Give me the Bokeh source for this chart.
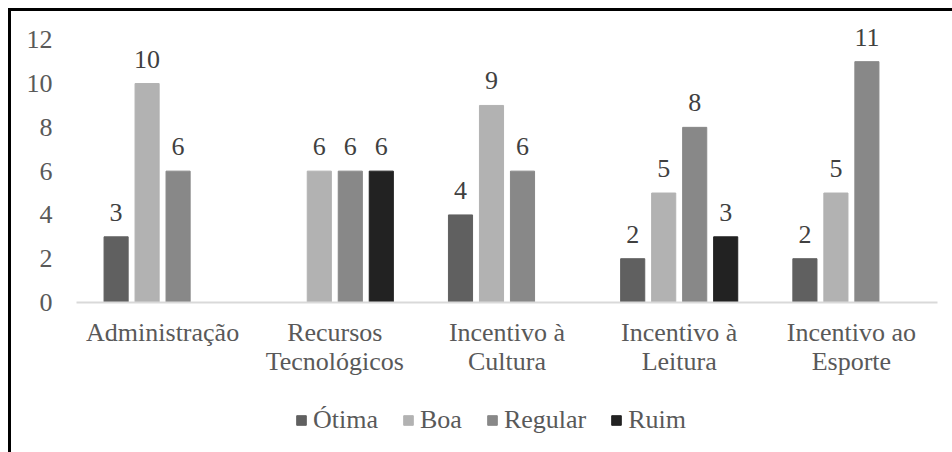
from bokeh.plotting import figure
from bokeh.layouts import column
from bokeh.models import ColumnDataSource, Range1d, Legend, LegendItem, FixedTicker, LabelSet
from bokeh.transform import dodge
from bokeh.embed import file_html
from bokeh.resources import INLINE

categories = ["Administração", "Recursos\nTecnológicos", "Incentivo à\nCultura", "Incentivo à\nLeitura", "Incentivo ao\nEsporte"]
series = ["Ótima", "Boa", "Regular", "Ruim"]
otima = [3, None, 4, 2, 2]
boa = [10, 6, 9, 5, 5]
regular = [6, 6, 6, 8, 11]
ruim = [None, 6, None, 3, None]
colors = ["#606060", "#b2b2b2", "#888888", "#222222"]
yticks = [0, 2, 4, 6, 8, 10, 12]

FONT = "Liberation Serif"
FS = "26px"

# y range end leaves headroom above the "12" tick so the value labels are not clipped
p = figure(x_range=categories, y_range=Range1d(0, 12.88), width=941, height=367,
           output_backend="svg", toolbar_location=None,
           min_border_left=65, min_border_top=9, min_border_right=15, min_border_bottom=0)
p.outline_line_color = None
p.grid.visible = False

q = figure(width=941, height=74, x_range=p.x_range, y_range=Range1d(100, 101),
           output_backend="svg", toolbar_location=None,
           x_axis_location=None, y_axis_location=None,
           min_border_left=0, min_border_right=0, min_border_top=0, min_border_bottom=0)
q.outline_line_color = None
q.grid.visible = False

offsets = [-0.27, -0.09, 0.09, 0.27]
items = []
for name, vals, col, off in zip(series, [otima, boa, regular, ruim], colors, offsets):
    xs = [c for c, v in zip(categories, vals) if v is not None]
    ys = [v for v in vals if v is not None]
    src = ColumnDataSource(dict(x=xs, y=ys, lbl=[str(v) for v in ys]))
    p.vbar(x=dodge("x", off, range=p.x_range), top="y", width=0.14, source=src,
           fill_color=col, line_color=col)
    labels = LabelSet(x=dodge("x", off, range=p.x_range), y="y", text="lbl", source=src,
                      text_align="center", text_baseline="alphabetic", y_offset=16,
                      text_font=FONT, text_font_size=FS, text_color="#404040")
    p.add_layout(labels)
    # same series in the legend strip (out of its visible y range), used only for the legend
    r = q.vbar(x=dodge("x", off, range=q.x_range), top="y", width=0.14, source=src,
               fill_color=col, line_color=col)
    items.append(LegendItem(label=name, renderers=[r]))

p.yaxis.ticker = FixedTicker(ticks=yticks)
p.yaxis.axis_line_color = None
p.yaxis.major_tick_line_color = None
p.yaxis.minor_tick_line_color = None
p.yaxis.major_label_standoff = 18
p.yaxis.major_label_text_font = FONT
p.yaxis.major_label_text_font_size = FS
p.yaxis.major_label_text_color = "#595959"

p.xaxis.axis_line_color = "#d9d9d9"
p.xaxis.axis_line_width = 2
p.xaxis.major_tick_line_color = None
p.xaxis.major_label_standoff = 9
p.xaxis.major_label_text_font = FONT
p.xaxis.major_label_text_font_size = FS
p.xaxis.major_label_text_color = "#595959"
p.xaxis.major_label_text_line_height = 1.0

legend = Legend(items=items, orientation="horizontal", location=(219, 17),
                label_text_font=FONT, label_text_font_size=FS, label_text_color="#595959",
                glyph_width=12, glyph_height=12, label_standoff=6, spacing=24,
                padding=0, margin=0, border_line_color=None, background_fill_alpha=0)
q.add_layout(legend, "center")

layout = column(p, q, spacing=0)
layout.styles = {"margin-left": "8px", "margin-top": "8px",
                 "border-top": "3px solid black", "border-left": "3px solid black"}

open("out.html", "w").write(file_html(layout, INLINE))
